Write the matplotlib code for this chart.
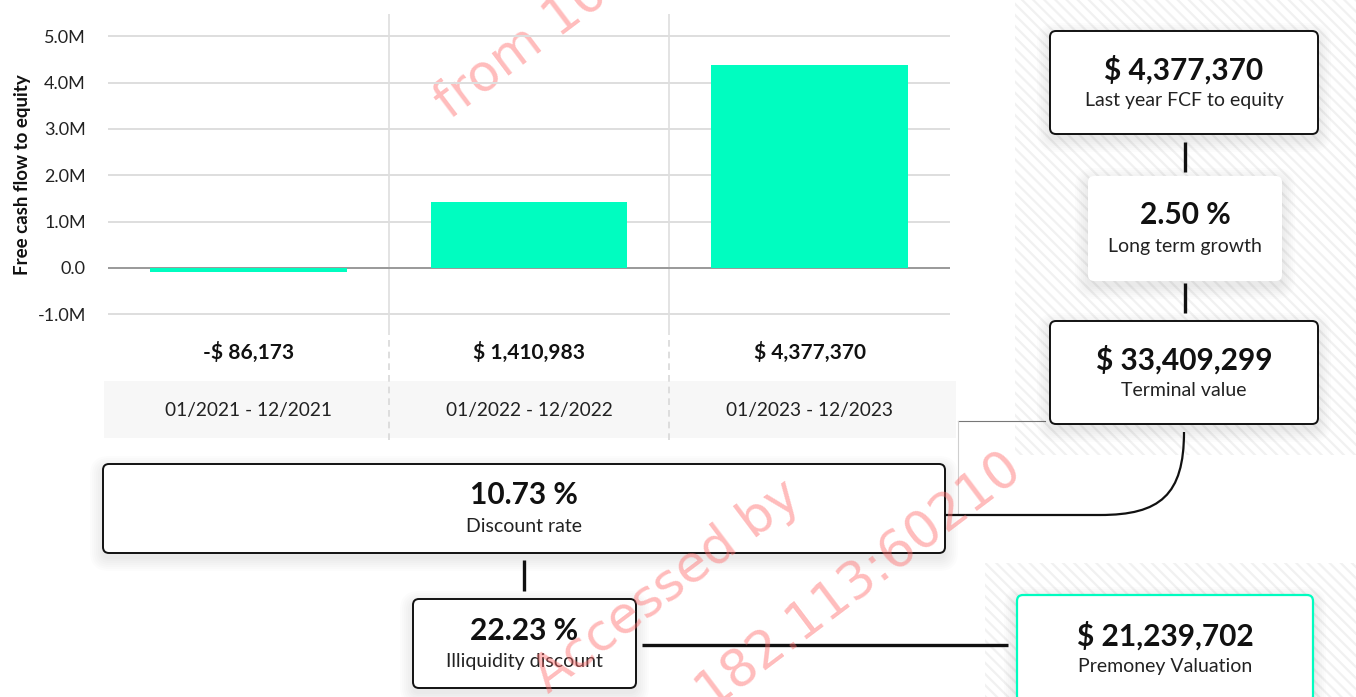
import matplotlib.pyplot as plt
from matplotlib.patches import FancyBboxPatch, Rectangle, PathPatch
from matplotlib.path import Path
from matplotlib.transforms import blended_transform_factory

# data
periods = ["01/2021 - 12/2021", "01/2022 - 12/2022", "01/2023 - 12/2023"]
fcf = [-86173, 1410983, 4377370]
yticks = [-1e6, 0, 1e6, 2e6, 3e6, 4e6, 5e6]

last_fcf = 4377370
growth = 2.50
terminal_value = 33409299
discount_rate = 10.73
illiquidity = 22.23
premoney = 21239702

W, H = 1356, 697
FONT = "Lato"
MINT = "#00fdc0"

plt.rcParams['font.family'] = [FONT, 'DejaVu Sans']
plt.rcParams['hatch.linewidth'] = 1.6

fig = plt.figure(figsize=(W / 100, H / 100), dpi=100)
fig.patch.set_facecolor("white")


def money(v):
    s = "$ {:,.0f}".format(abs(v))
    return "-" + s if v < 0 else s


# ---- bar chart ----
ax = fig.add_axes([108 / W, 1 - 335 / H, 842 / W, 321 / H])
ax.set_zorder(3)
ax.patch.set_alpha(0)
x = list(range(len(fcf)))
ax.bar(x, fcf, width=0.7, color=MINT, zorder=3)
ax.set_xlim(-0.5, len(fcf) - 0.5)
ax.set_ylim(-1.45e6, 5.48e6)
ax.set_yticks(yticks)
ax.set_yticklabels(["0.0" if v == 0 else "{:.1f}M".format(v / 1e6) for v in yticks])
ax.set_xticks([])
for v in yticks:
    ax.axhline(v, color="#999999" if v == 0 else "#dedede", lw=1.4, zorder=2)
for sep in [0.5, 1.5]:
    ax.axvline(sep, color="#dedede", lw=1.2, zorder=1)
for s in ax.spines.values():
    s.set_visible(False)
ax.tick_params(axis="y", length=0, pad=16, labelsize=13, labelcolor="#222222")
ax.set_ylabel("Free cash flow to equity", fontsize=13.5, fontweight="bold",
              color="#111111")
ax.yaxis.set_label_coords(-0.092, 0.5)

# value / period rows under the bars
ax.add_patch(Rectangle((-4 / 842, -103 / 321), 852 / 842, 57 / 321,
                       transform=ax.transAxes, fc="#f7f7f7", ec="none",
                       clip_on=False, zorder=0))
tr = blended_transform_factory(ax.transData, ax.transAxes)
for i, v in enumerate(fcf):
    ax.text(i, -0.053, money(v), transform=tr, ha="center", va="center",
            fontsize=15, fontweight="bold", color="#111111", clip_on=False)
    ax.text(i, -0.234, periods[i], transform=tr, ha="center", va="center",
            fontsize=13.8, color="#222222", clip_on=False)
for sep in [0.5, 1.5]:
    ax.plot([sep, sep], [-0.015, -0.33], transform=tr, color="#d8d8d8",
            lw=1.2, ls=(0, (4, 3)), clip_on=False, zorder=4)

# ---- overlay in pixel coordinates ----
ov = fig.add_axes([0, 0, 1, 1])
ov.set_xlim(0, W)
ov.set_ylim(H, 0)
ov.axis("off")
ov.set_zorder(2)

# hatched panels
ov.add_patch(Rectangle((1015, 0), W - 1015, 455, fc="white", ec="#f1f1f1",
                       lw=0, hatch="\\\\\\", zorder=0))
ov.add_patch(Rectangle((985, 563), W - 985, H - 563, fc="white", ec="#f1f1f1",
                       lw=0, hatch="\\\\\\", zorder=0))


def card(x0, y0, x1, y1, big, small, edge="#111111", lw=1.4, big_size=21.5):
    for k in range(7):
        g = 1 + k * 2
        ov.add_patch(FancyBboxPatch((x0 - g, y0 - g + 5), x1 - x0 + 2 * g, y1 - y0 + 2 * g,
                                    boxstyle="round,pad=0,rounding_size=%d" % (6 + g),
                                    fc="black", ec="none", alpha=0.010, zorder=2))
    ov.add_patch(FancyBboxPatch((x0, y0), x1 - x0, y1 - y0,
                                boxstyle="round,pad=0,rounding_size=6",
                                fc="white", ec=edge, lw=lw, zorder=3))
    cx, cy = (x0 + x1) / 2, (y0 + y1) / 2
    ov.text(cx, cy - 13, big, ha="center", va="center", fontsize=big_size,
            fontweight="bold", color="#111111", zorder=4)
    ov.text(cx, cy + 18, small, ha="center", va="center", fontsize=14,
            color="#222222", zorder=4)


card(1050, 31, 1318, 134, money(last_fcf), "Last year FCF to equity")
card(1088, 176, 1282, 281, "{:.2f} %".format(growth), "Long term growth", edge="none", lw=0)
card(1050, 321, 1318, 424, money(terminal_value), "Terminal value")
card(103, 464, 945, 553, "{:.2f} %".format(discount_rate), "Discount rate")
card(413, 599, 636, 688, "{:.2f} %".format(illiquidity), "Illiquidity discount")
card(1017, 595, 1313, 702, money(premoney), "Premoney Valuation", edge=MINT, lw=1.6)

# connectors
thick = dict(color="#111111", lw=2.4, solid_capstyle="butt", zorder=5)
ov.plot([1185, 1185], [142, 172], **thick)
ov.plot([1185, 1185], [283, 313], **thick)
ov.plot([524, 524], [560, 591], **thick)
ov.plot([642, 1008], [645, 645], **thick)

ov.plot([958, 1045], [421, 421], color="#777777", lw=0.8, zorder=1)
ov.plot([958, 958], [421, 515], color="#cfcfcf", lw=0.8, zorder=1)

curve = Path([(1184, 432), (1184, 495), (1160, 515), (1100, 515), (945, 515)],
             [Path.MOVETO, Path.CURVE4, Path.CURVE4, Path.CURVE4, Path.LINETO])
ov.add_patch(PathPatch(curve, fc="none", ec="#111111", lw=1.6, zorder=5))

# watermark
wm = dict(color="#ff6b6b", alpha=0.45, fontsize=37, rotation=37,
          rotation_mode="anchor", ha="left", va="baseline", zorder=10,
          family="DejaVu Sans")
ov.text(450, 120, "from 100", **wm)
ov.text(548, 694, "Accessed by", **wm)
ov.text(1024, 472, "182.113:60210", **dict(wm, ha="right"))

fig.savefig("out.png", dpi=100)
